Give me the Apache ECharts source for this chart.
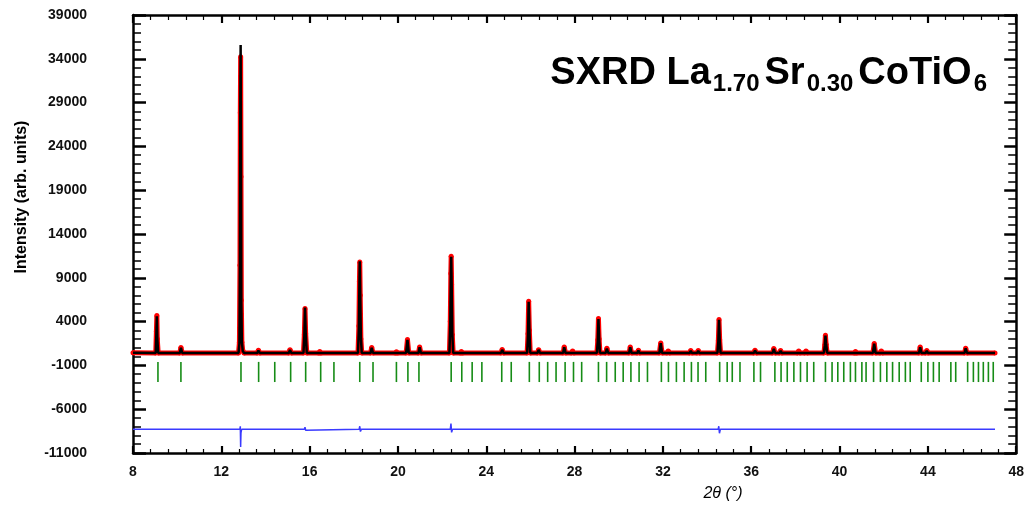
<!DOCTYPE html>
<html>
<head>
<meta charset="utf-8">
<title>SXRD La1.70Sr0.30CoTiO6</title>
<script src="https://cdn.jsdelivr.net/npm/echarts@6/dist/echarts.min.js"></script>
<style>
html, body { margin: 0; padding: 0; background: #fff; }
#chart { width: 1027px; height: 515px; }
</style>
</head>
<body>
<div id="chart"></div>
<script>
// 2theta positions of the profile points, with observed and calculated intensity
var twoTheta = [
	8.00, 9.03, 9.06, 9.08, 9.10, 9.14, 10.12, 10.17, 10.23,
	12.78, 12.82, 12.845, 12.86, 12.875, 12.89, 12.905, 12.93, 12.97, 13.03,
	13.63, 13.68, 13.74, 15.06, 15.11, 15.17,
	15.72, 15.76, 15.79, 15.82, 15.87, 16.41, 16.46, 16.51,
	18.19, 18.23, 18.255, 18.27, 18.29, 18.32, 18.36,
	18.76, 18.81, 18.87, 19.88, 19.93, 19.98, 20.37, 20.43, 20.49, 20.93, 20.98, 21.04,
	22.33, 22.37, 22.395, 22.41, 22.43, 22.46, 22.50,
	22.82, 22.87, 22.92, 24.67, 24.72, 24.78,
	25.85, 25.89, 25.92, 25.95, 25.99, 26.32, 26.37, 26.43,
	27.48, 27.53, 27.59, 27.86, 27.91, 27.96,
	29.01, 29.05, 29.08, 29.11, 29.15, 29.41, 29.46, 29.52,
	30.47, 30.52, 30.58, 30.84, 30.89, 30.94, 31.84, 31.90, 31.96, 32.19, 32.24, 32.29,
	33.21, 33.26, 33.31, 33.55, 33.60, 33.65,
	34.47, 34.51, 34.54, 34.57, 34.61,
	36.12, 36.17, 36.23, 36.97, 37.02, 37.08, 37.28, 37.33, 37.38,
	38.10, 38.15, 38.20, 38.43, 38.48, 38.53,
	39.29, 39.33, 39.36, 39.39, 39.44,
	40.67, 40.72, 40.77, 41.51, 41.57, 41.63, 41.84, 41.89, 41.94,
	43.60, 43.65, 43.71, 43.90, 43.95, 44.00, 45.66, 45.71, 45.77, 47.04
];
var yObs = [
	450, 420, 2900, 4700, 2000, 420, 420, 1050, 420,
	420, 1650, 10440, 27840, 34240, 20530, 6440, 1650, 700, 420,
	420, 730, 420, 420, 800, 420,
	420, 2500, 5500, 2600, 420, 420, 600, 420,
	420, 3500, 8600, 10800, 7000, 2000, 420,
	420, 1050, 420, 420, 560, 420, 420, 1950, 420, 420, 1110, 420,
	420, 4000, 9500, 11470, 8200, 2500, 420,
	420, 600, 420, 420, 810, 420,
	420, 2600, 6330, 3000, 420, 420, 800, 420,
	420, 1110, 420, 420, 650, 420,
	420, 1900, 4350, 2000, 420, 420, 960, 420,
	420, 1110, 420, 420, 730, 420, 420, 1570, 420, 420, 650, 420,
	420, 700, 420, 420, 700, 420,
	420, 1800, 4240, 1900, 420,
	420, 730, 420, 420, 925, 420, 420, 700, 420,
	420, 650, 420, 420, 650, 420,
	420, 1300, 2440, 1400, 420,
	420, 600, 420, 420, 1500, 420, 420, 650, 420,
	420, 1110, 420, 420, 700, 420, 420, 960, 420, 420
];
var yCalc = [
	450, 420, 2700, 4600, 2100, 420, 420, 1000, 420,
	420, 1500, 10800, 28500, 35570, 21000, 6200, 1700, 650, 420,
	420, 700, 420, 420, 760, 420,
	420, 2400, 5600, 2800, 420, 420, 580, 420,
	420, 3300, 8400, 10900, 7200, 2200, 420,
	420, 1000, 420, 420, 540, 420, 420, 1900, 420, 420, 1080, 420,
	420, 3800, 9300, 11400, 8500, 2700, 420,
	420, 580, 420, 420, 780, 420,
	420, 2500, 6250, 3200, 420, 420, 780, 420,
	420, 1080, 420, 420, 630, 420,
	420, 1800, 4300, 2100, 420, 420, 930, 420,
	420, 1080, 420, 420, 710, 420, 420, 1540, 420, 420, 630, 420,
	420, 680, 420, 420, 680, 420,
	420, 1750, 4200, 2000, 420,
	420, 710, 420, 420, 900, 420, 420, 680, 420,
	420, 630, 420, 420, 630, 420,
	420, 1250, 2400, 1450, 420,
	420, 590, 420, 420, 1480, 420, 420, 630, 420,
	420, 1080, 420, 420, 680, 420, 420, 940, 420, 420
];

// difference curve (obs - calc, shifted down)
var diffX = [8.00, 9.05, 9.08, 9.10, 9.14, 12.84, 12.86, 12.875, 12.89, 12.92,
	15.76, 15.79, 15.82, 15.86, 18.24, 18.27, 18.30, 18.34, 22.37, 22.40, 22.43, 22.47,
	25.89, 25.92, 25.95, 25.99, 29.05, 29.08, 29.11, 29.15, 34.50, 34.53, 34.56, 34.60,
	39.33, 39.36, 39.40, 47.04];
var yDiff = [-8300, -8300, -8100, -8500, -8300, -8300, -7950, -10300, -8700, -8300,
	-8300, -8050, -8400, -8300, -8300, -7950, -8550, -8300, -8300, -7650, -8650, -8300,
	-8300, -8150, -8400, -8300, -8300, -8200, -8350, -8300, -8300, -7950, -8750, -8300,
	-8300, -8150, -8300, -8300];

// Bragg reflection positions
var hklPos = [
	9.13, 10.17, 12.89, 13.69, 14.42, 15.14, 15.82, 16.50, 17.10, 18.27, 18.87, 19.93,
	20.45, 20.95, 22.41, 22.89, 23.36, 23.80, 24.70, 25.13, 25.95, 26.40, 26.78, 27.16,
	27.57, 27.95, 28.32, 29.08, 29.45, 29.84, 30.20, 30.55, 30.92, 31.30, 31.93, 32.25,
	32.61, 32.96, 33.29, 33.59, 33.94, 34.57, 34.91, 35.14, 35.49, 36.12, 36.42, 37.07,
	37.35, 37.63, 37.93, 38.23, 38.53, 38.83, 39.36, 39.66, 39.92, 40.19, 40.49, 40.72,
	41.01, 41.20, 41.54, 41.85, 42.14, 42.40, 42.70, 42.98, 43.20, 43.70, 44.00, 44.25,
	44.51, 45.04, 45.26, 45.80, 46.06, 46.29, 46.51, 46.74, 46.96
];
var tickTop = -600;
var tickBottom = -2900;

var FONT = 'Liberation Sans, Arial, sans-serif';

function pairs(xs, ys)
{
	var out = [];
	for (var i = 0; i < xs.length; i++)
		out.push([xs[i], ys[i]]);
	return out;
}

function xAxisOf(pos, showLabel, majorLen, minorLen)
{
	return {
		type: 'value',
		position: pos,
		min: 8,
		max: 48,
		interval: 4,
		axisLine: { show: true, onZero: false, lineStyle: { color: '#000', width: 2.5 } },
		axisTick: { show: true, inside: true, length: majorLen, lineStyle: { color: '#000', width: 2.2 } },
		minorTick: { show: true, splitNumber: 5, length: minorLen, lineStyle: { color: '#000', width: 1.2 } },
		axisLabel: { show: showLabel, margin: 12, fontFamily: FONT, fontWeight: 'bold', fontSize: 14, color: '#111' },
		splitLine: { show: false }
	};
}

function yAxisOf(pos, showLabel, majorLen, minorLen)
{
	return {
		type: 'value',
		position: pos,
		min: -11000,
		max: 39000,
		interval: 5000,
		axisLine: { show: true, onZero: false, lineStyle: { color: '#000', width: 2.5 } },
		axisTick: { show: true, inside: true, length: majorLen, lineStyle: { color: '#000', width: 2.5 } },
		minorTick: { show: true, splitNumber: 5, length: minorLen, lineStyle: { color: '#000', width: 1.5 } },
		axisLabel: {
			show: showLabel, margin: 46, fontFamily: FONT, fontWeight: 'bold', fontSize: 14, color: '#111',
			formatter: function(v) { return String(v); }
		},
		splitLine: { show: false }
	};
}

var chart = echarts.init(document.getElementById('chart'));

var options =
{
	animation: false,
	backgroundColor: '#fff',
	title: {
		right: 35,
		top: 55,
		padding: 0,
		text: '{a|SXRD La}{s|1.70}{a|Sr}{s|0.30}{a|CoTiO}{s|6}',
		textStyle: {
			rich: {
				a: { fontFamily: FONT, fontWeight: 'bold', fontSize: 38, color: '#000', lineHeight: 36, verticalAlign: 'top' },
				s: { fontFamily: FONT, fontWeight: 'bold', fontSize: 24, color: '#000', lineHeight: 41, verticalAlign: 'bottom', padding: [0, 5, 0, 2] }
			}
		}
	},
	grid: { left: 133, right: 9, top: 15, bottom: 62 },
	xAxis: [
		xAxisOf('bottom', true, 7, 4),
		xAxisOf('top', false, 8, 5)
	],
	yAxis: [
		yAxisOf('left', true, 13, 8),
		yAxisOf('right', false, 12, 8)
	],
	graphic: [
		{
			type: 'text',
			x: 22,
			y: 197,
			rotation: Math.PI / 2,
			style: { text: 'Intensity (arb. units)', fontFamily: FONT, fontWeight: 'bold', fontSize: 16, fill: '#000', align: 'center', verticalAlign: 'middle' }
		},
		{
			type: 'text',
			x: 723,
			y: 494,
			style: { text: '2θ (°)', fontFamily: FONT, fontStyle: 'italic', fontSize: 16, fill: '#000', align: 'center', verticalAlign: 'middle' }
		}
	],
	series: [
		{
			name: 'obs',
			type: 'line',
			data: pairs(twoTheta, yObs),
			showSymbol: true,
			symbol: 'circle',
			symbolSize: 5,
			itemStyle: { color: '#ff0000' },
			lineStyle: { color: '#ff0000', width: 5 },
			z: 2
		},
		{
			name: 'calc',
			type: 'line',
			data: pairs(twoTheta, yCalc),
			showSymbol: false,
			lineStyle: { color: '#000', width: 2.5 },
			z: 3
		},
		{
			name: 'diff',
			type: 'line',
			data: pairs(diffX, yDiff),
			showSymbol: false,
			lineStyle: { color: '#3a3aff', width: 1.5 },
			z: 3
		},
		{
			name: 'bragg',
			type: 'custom',
			data: hklPos.map(function(v) { return [v]; }),
			encode: { x: 0 },
			renderItem: function(params, api)
			{
				var p1 = api.coord([api.value(0), tickTop]);
				var p2 = api.coord([api.value(0), tickBottom]);
				return {
					type: 'line',
					shape: { x1: p1[0], y1: p1[1], x2: p2[0], y2: p2[1] },
					style: { stroke: '#168c16', lineWidth: 1.6 }
				};
			},
			z: 2
		}
	]
};

chart.setOption(options);
</script>
</body>
</html>
